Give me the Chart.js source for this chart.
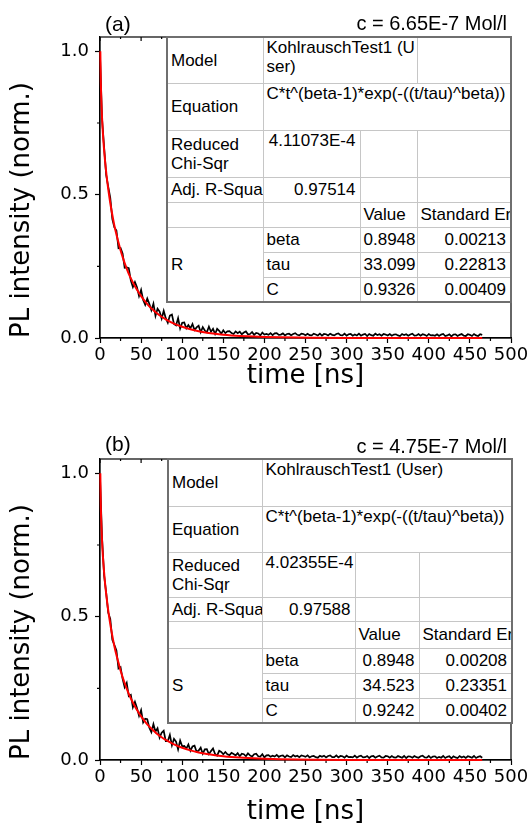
<!DOCTYPE html>
<html>
<head>
<meta charset="utf-8">
<script src="https://cdn.jsdelivr.net/npm/chart.js@4.4.1/dist/chart.umd.min.js"></script>
<style>
  body { margin: 0; background: #fff; }
  #page { position: relative; width: 531px; height: 831px; overflow: hidden; }
  .panel { position: absolute; left: 0; width: 531px; }
  .panel canvas { position: absolute; left: 0; top: 0; }
  .tag { position: absolute; font-family: 'Liberation Sans', Arial, sans-serif; color: #000; white-space: nowrap; }
  table.fit { position: absolute; border-collapse: collapse; table-layout: fixed; background: #fff;
    border: 2px solid #6f6f6f; font-family: 'Liberation Sans', Arial, sans-serif; font-size: 17px; color: #000; }
  table.fit td { border: 1px solid #c6c6c6; padding: 0 4px 0 3px; white-space: nowrap; overflow: hidden;
    line-height: 19px; vertical-align: middle; }
  table.fit td.top { vertical-align: top; }
  table.fit td.num { text-align: right; }
</style>
</head>
<body>
<div id="page">
  <div class="panel" style="top:0; height:415px">
    <canvas id="chartA" width="531" height="415"></canvas>
    <div class="tag" style="left:105px; top:13px; font-size:21px; line-height:21px">(a)</div>
    <div class="tag" style="right:24px; top:13px; font-size:20px; line-height:20px">c = 6.65E-7 Mol/l</div>
    <table class="fit" id="tableA" style="left:166px; top:36px; width:346px"></table>
  </div>
  <div class="panel" style="top:415px; height:416px">
    <canvas id="chartB" width="531" height="416"></canvas>
    <div class="tag" style="left:105px; top:18px; font-size:21px; line-height:21px">(b)</div>
    <div class="tag" style="right:24px; top:21px; font-size:20px; line-height:20px">c = 4.75E-7 Mol/l</div>
    <table class="fit" id="tableB" style="left:167px; top:43px; width:346px"></table>
  </div>
</div>
<script>
// measured decay, time axis in ns
const timeData = [
  0,2.5,5,7.5,10,12.5,15,17.5,20,22.5,25,27.5,30,32.5,35,37.5,40,42.5,45,47.5,
  50,52.5,55,57.5,60,62.5,65,67.5,70,72.5,75,77.5,80,82.5,85,87.5,90,92.5,95,97.5,
  100,102.5,105,107.5,110,112.5,115,117.5,120,122.5,125,127.5,130,132.5,135,137.5,140,142.5,145,147.5,
  150,152.5,155,157.5,160,162.5,165,167.5,170,172.5,175,177.5,180,182.5,185,187.5,190,192.5,195,197.5,
  200,202.5,205,207.5,210,212.5,215,217.5,220,222.5,225,227.5,230,232.5,235,237.5,240,242.5,245,247.5,
  250,252.5,255,257.5,260,262.5,265,267.5,270,272.5,275,277.5,280,282.5,285,287.5,290,292.5,295,297.5,
  300,302.5,305,307.5,310,312.5,315,317.5,320,322.5,325,327.5,330,332.5,335,337.5,340,342.5,345,347.5,
  350,352.5,355,357.5,360,362.5,365,367.5,370,372.5,375,377.5,380,382.5,385,387.5,390,392.5,395,397.5,
  400,402.5,405,407.5,410,412.5,415,417.5,420,422.5,425,427.5,430,432.5,435,437.5,440,442.5,445,447.5,
  450,452.5,455,457.5,460,462.5,465];

const plA = [
  0.99,0.765,0.666,0.569,0.528,0.489,0.415,0.386,0.375,0.313,0.314,0.295,0.245,0.246,0.244,0.200,0.178,0.195,0.177,0.146,
  0.168,0.133,0.116,0.138,0.119,0.097,0.120,0.077,0.102,0.092,0.068,0.095,0.069,0.053,0.078,0.082,0.049,0.044,0.069,0.033,
  0.053,0.054,0.034,0.045,0.034,0.049,0.028,0.037,0.043,0.020,0.038,0.026,0.020,0.040,0.022,0.032,0.014,0.032,0.025,0.015,
  0.027,0.017,0.023,0.024,0.017,0.014,0.023,0.017,0.022,0.013,0.019,0.023,0.013,0.014,0.021,0.011,0.018,0.016,0.009,0.019,
  0.012,0.014,0.011,0.017,0.010,0.016,0.017,0.011,0.012,0.016,0.009,0.014,0.015,0.010,0.014,0.017,0.011,0.009,0.015,0.014,
  0.010,0.015,0.010,0.009,0.015,0.012,0.009,0.015,0.008,0.014,0.013,0.009,0.015,0.011,0.009,0.014,0.016,0.010,0.009,0.015,
  0.008,0.013,0.014,0.008,0.012,0.009,0.015,0.008,0.012,0.014,0.007,0.014,0.010,0.008,0.015,0.010,0.013,0.008,0.014,0.012,
  0.009,0.014,0.008,0.012,0.013,0.009,0.007,0.014,0.010,0.013,0.008,0.012,0.015,0.008,0.009,0.014,0.008,0.013,0.011,0.007,
  0.014,0.009,0.010,0.008,0.013,0.007,0.012,0.014,0.007,0.009,0.013,0.006,0.012,0.013,0.007,0.011,0.014,0.008,0.007,0.013,
  0.011,0.007,0.014,0.009,0.007,0.013,0.011];

const plB = [
  0.99,0.776,0.644,0.584,0.514,0.492,0.419,0.401,0.382,0.319,0.324,0.283,0.254,0.269,0.223,0.227,0.184,0.203,0.181,0.154,
  0.174,0.131,0.144,0.142,0.113,0.097,0.125,0.099,0.111,0.078,0.095,0.102,0.066,0.066,0.088,0.051,0.074,0.064,0.037,0.068,
  0.048,0.049,0.040,0.054,0.032,0.047,0.050,0.029,0.033,0.043,0.022,0.037,0.038,0.020,0.031,0.040,0.021,0.015,0.032,0.028,
  0.020,0.028,0.020,0.017,0.025,0.021,0.016,0.024,0.013,0.022,0.020,0.013,0.023,0.016,0.012,0.020,0.022,0.013,0.012,0.020,
  0.009,0.016,0.017,0.011,0.015,0.012,0.018,0.011,0.015,0.016,0.009,0.016,0.012,0.010,0.017,0.012,0.015,0.010,0.016,0.014,
  0.011,0.016,0.009,0.013,0.014,0.010,0.008,0.015,0.011,0.015,0.009,0.014,0.016,0.010,0.010,0.016,0.009,0.014,0.013,0.008,
  0.015,0.010,0.011,0.009,0.015,0.008,0.013,0.015,0.009,0.010,0.014,0.007,0.013,0.014,0.008,0.012,0.015,0.009,0.008,0.014,
  0.013,0.008,0.014,0.009,0.008,0.014,0.011,0.008,0.014,0.007,0.013,0.012,0.008,0.014,0.010,0.008,0.013,0.015,0.009,0.008,
  0.014,0.007,0.012,0.013,0.007,0.011,0.008,0.014,0.007,0.011,0.013,0.006,0.013,0.009,0.007,0.014,0.009,0.012,0.007,0.013,
  0.011,0.008,0.014,0.007,0.011,0.013,0.008];

// Kohlrausch fit curves (red)
const fitTime = [0.4,1,2,3,4,6,8,10,12.5,15,17.5,20,22.5,25,27.5,30,35,40,45,50,55,60,65,70,75,80,90,100,
  110,120,130,140,150,160,170,180,200,220,240,260,300,350,400,465];
const fitA = [1.0,0.893,0.800,0.740,0.693,0.622,0.566,0.520,0.471,0.429,0.392,0.361,0.333,0.306,0.283,0.261,0.224,0.194,
  0.168,0.146,0.127,0.1105,0.097,0.0845,0.074,0.065,0.050,0.039,0.0305,0.0238,0.0186,0.0146,0.0115,0.0091,0.0072,0.0057,
  0.0036,0.0023,0.0014,0.0009,0.0003,0.0001,0,0];
const fitB = [1.0,0.886,0.795,0.735,0.691,0.621,0.567,0.522,0.474,0.433,0.397,0.366,0.339,0.312,0.289,0.268,0.231,0.2005,
  0.1744,0.1522,0.1334,0.1166,0.1029,0.090,0.0792,0.0699,0.0546,0.0427,0.0336,0.0265,0.0209,0.0166,0.0132,0.0105,0.0084,0.0067,
  0.0043,0.0027,0.0017,0.0011,0.0004,0.0001,0,0];

const xTicks = [0,50,100,150,200,250,300,350,400,450,500];
const xMinor = [25,75,125,175,225,275,325,375,425,475];
const yTicks = [0,0.5,1.0];
const yMinor = [0.25,0.75];

// fit report tables
const paramNames = ['beta', 'tau', 'C'];
const valuesA = ['0.8948', '33.099', '0.9326'];
const errorsA = ['0.00213', '0.22813', '0.00409'];
const valuesB = ['0.8948', '34.523', '0.9242'];
const errorsB = ['0.00208', '0.23351', '0.00402'];

const equation = 'C*t^(beta-1)*exp(-((t/tau)^beta))';

function fitTable(id, o) {
    const cols = o.cols.map(w => `<col style="width:${w}px">`).join('');
    const modelCell = o.modelSplit
        ? `<td colspan="2" class="top">${o.model}</td><td></td>`
        : `<td colspan="3" class="top">${o.model}</td>`;
    let html = `<colgroup>${cols}</colgroup>
      <tr style="height:${o.rows[0]}px"><td>Model</td>${modelCell}</tr>
      <tr style="height:${o.rows[1]}px"><td>Equation</td><td colspan="3" class="top">${equation}</td></tr>
      <tr style="height:${o.rows[2]}px"><td>Reduced<br>Chi-Sqr</td><td class="top num">${o.chi}</td><td></td><td></td></tr>
      <tr style="height:${o.rows[3]}px"><td>Adj. R-Squa</td><td class="num">${o.adjR}</td><td></td><td></td></tr>
      <tr style="height:${o.rows[4]}px"><td></td><td></td><td>Value</td><td>Standard Er</td></tr>`;
    paramNames.forEach((p, i) => {
        html += `<tr style="height:${o.rows[5]}px">` +
            (i === 0 ? `<td rowspan="3">${o.sample}</td>` : '') +
            `<td>${p}</td><td class="num">${o.values[i]}</td><td class="num">${o.errors[i]}</td></tr>`;
    });
    document.getElementById(id).innerHTML = html;
}

fitTable('tableA', {
    cols: [96, 97, 57, 94], rows: [46, 47, 47, 25, 25, 25],
    model: 'KohlrauschTest1 (U<br>ser)', modelSplit: true,
    chi: '4.11073E-4', adjR: '0.97514', sample: 'R', values: valuesA, errors: errorsA
});
fitTable('tableB', {
    cols: [94, 93, 64, 93], rows: [47, 46, 45, 24, 27, 25],
    model: 'KohlrauschTest1 (User)', modelSplit: false,
    chi: '4.02355E-4', adjR: '0.97588', sample: 'S', values: valuesB, errors: errorsB
});

Chart.defaults.font.family = "'DejaVu Sans', sans-serif";
Chart.defaults.color = '#000';

// box around the plot plus the short minor ticks
const framePlugin = {
    id: 'frame',
    beforeDatasetsDraw(chart) {
        const { ctx, chartArea: a, scales: { x, y } } = chart;
        ctx.save();
        ctx.strokeStyle = '#000';
        ctx.lineWidth = 1.2;
        ctx.strokeRect(a.left, a.top, a.right - a.left, a.bottom - a.top);
        ctx.beginPath();
        xMinor.forEach(v => {
            const px = x.getPixelForValue(v);
            ctx.moveTo(px, a.bottom); ctx.lineTo(px, a.bottom + 3);
            ctx.moveTo(px, a.top); ctx.lineTo(px, a.top + 2);
        });
        xTicks.forEach(v => {
            const px = x.getPixelForValue(v);
            ctx.moveTo(px, a.top); ctx.lineTo(px, a.top + 4);
        });
        yMinor.forEach(v => {
            const py = y.getPixelForValue(v);
            ctx.moveTo(a.left, py); ctx.lineTo(a.left - 3, py);
        });
        ctx.stroke();
        ctx.restore();
    }
};

function makeChart(canvasId, pl, fit, o) {
    return new Chart(document.getElementById(canvasId), {
        type: 'line',
        data: {
            datasets: [
                {
                    data: fitTime.map((t, i) => ({ x: t, y: fit[i] })),
                    borderColor: '#ff0000', borderWidth: 2, pointRadius: 0,
                    cubicInterpolationMode: 'monotone', clip: false, order: 0
                },
                {
                    data: timeData.map((t, i) => ({ x: t, y: pl[i] })),
                    borderColor: '#000', borderWidth: 1.7, pointRadius: 0, tension: 0, order: 1
                }
            ]
        },
        options: {
            responsive: false,
            animation: false,
            events: [],
            layout: { padding: { top: o.top, right: 20, left: 0, bottom: 0 } },
            plugins: { legend: { display: false }, tooltip: { enabled: false } },
            scales: {
                x: {
                    type: 'linear', min: 0, max: 500,
                    afterBuildTicks: s => { s.ticks = xTicks.map(v => ({ value: v })); },
                    afterFit: s => { s.height = o.xHeight; },
                    ticks: { font: { size: 18 }, color: '#000', padding: 2, maxRotation: 0, autoSkip: false,
                        callback: v => String(v) },
                    grid: { drawOnChartArea: false, tickLength: 5, tickColor: '#000', tickWidth: 1.2 },
                    border: { color: '#000', width: 1.2 },
                    title: { display: true, text: 'time [ns]', font: { size: 26 }, color: '#000',
                        padding: { top: 0, bottom: o.xTitlePad } }
                },
                y: {
                    type: 'linear', min: 0, max: 1.05,
                    afterBuildTicks: s => { s.ticks = yTicks.map(v => ({ value: v })); },
                    afterFit: s => { s.width = 100; },
                    ticks: { font: { size: 18 }, color: '#000', padding: 6, callback: v => v.toFixed(1) },
                    grid: { drawOnChartArea: false, tickLength: 5, tickColor: '#000', tickWidth: 1.2 },
                    border: { color: '#000', width: 1.2 },
                    title: { display: true, text: 'PL intensity (norm.)', align: 'start', font: { size: 26 },
                        color: '#000', padding: { top: 7, bottom: 0 } }
                }
            }
        },
        plugins: [framePlugin]
    });
}

makeChart('chartA', plA, fitA, { top: 37, xHeight: 77, xTitlePad: 23 });
makeChart('chartB', plB, fitB, { top: 44, xHeight: 71, xTitlePad: 3 });
</script>
</body>
</html>
